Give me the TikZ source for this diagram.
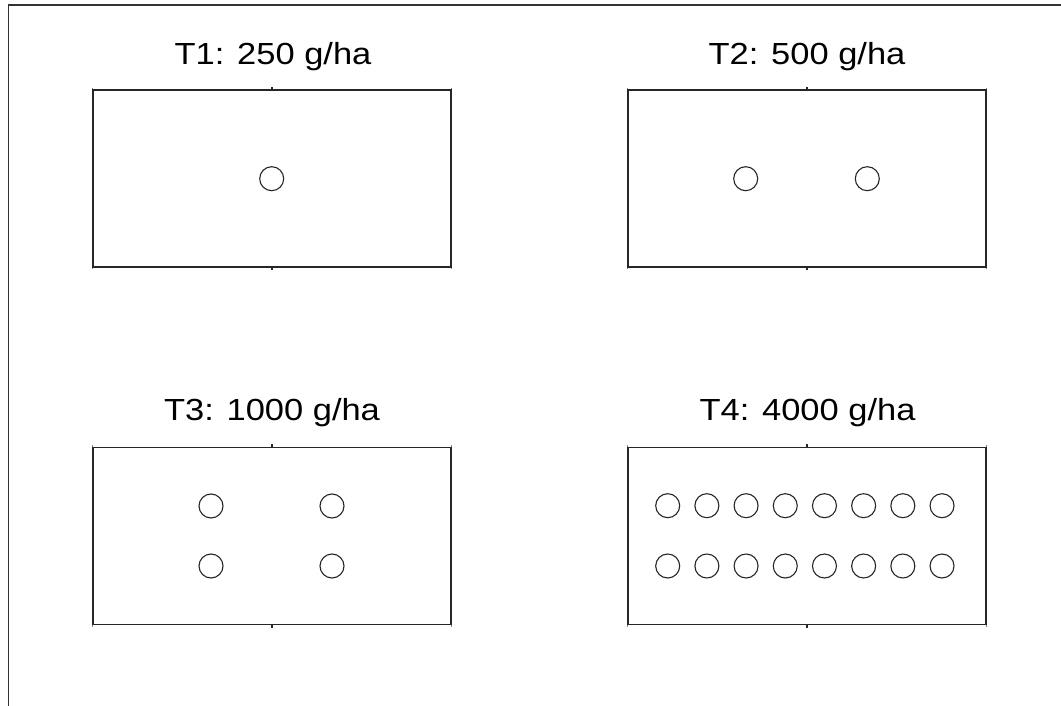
\documentclass[tikz,border=0pt]{standalone}
\usepackage{fontspec}
\usepackage{graphicx}
\newfontfamily\titlefont{Liberation Sans}
\begin{document}
\begin{tikzpicture}[x=1pt,y=-1pt,
  plot/.style={draw=black!85, line width=1.4pt, minimum width=358pt, minimum height=177pt, inner sep=0pt, rectangle},
  heading/.style={anchor=base, inner sep=0pt, font=\titlefont\fontsize{30.5}{36}\selectfont},
  dot/.style={draw=black!85, line width=1.1pt, circle, minimum size=24pt, inner sep=0pt},
  tick/.style={draw=black!85, line width=1.2pt},
  cornertick/.style={draw=black!50, line width=0.8pt}]
\useasboundingbox (0,0) rectangle (1061,706);
\fill[white] (0,0) rectangle (1061,706);
% outer frame (top and left edges)
\draw[black!80, line width=1.3pt] (8.3,706) -- (8.3,5) -- (1061,5);

% plots
\node[plot] (p1) at (272,178.5) {};
\node[plot] (p2) at (807,178.5) {};
\node[plot] (p3) at (272,536) {};
\node[plot] (p4) at (807,536) {};

% ticks on top and bottom edges
\foreach \p in {p1,p2,p3,p4}{
  \draw[tick] (\p.north) -- ++(0,-2.5);
  \draw[tick] (\p.south) -- ++(0,2.5);
  \draw[cornertick] (\p.north west) -- ++(0,-1.5);
  \draw[cornertick] (\p.north east) -- ++(0,-1.5);
  \draw[cornertick] (\p.south west) -- ++(0,1.5);
  \draw[cornertick] (\p.south east) -- ++(0,1.5);
}

% headings
\node[heading] (h1) at (273,65) {\scalebox{1.13}[1]{T1: 250 g/ha}};
\node[heading] (h2) at (807,64.5) {\scalebox{1.13}[1]{T2: 500 g/ha}};
\node[heading] (h3) at (272,420) {\scalebox{1.13}[1]{T3: 1000 g/ha}};
\node[heading] (h4) at (807.5,420) {\scalebox{1.13}[1]{T4: 4000 g/ha}};

% T1
\node[dot] (a1) at (271.7,178.7) {};
% T2
\node[dot] (b1) at (745.7,178.7) {};
\node[dot] (b2) at (867.3,178.7) {};
% T3
\node[dot] (c1) at (211,506) {};
\node[dot] (c2) at (332,506) {};
\node[dot] (c3) at (211,566) {};
\node[dot] (c4) at (332,566) {};
% T4
\foreach \i in {0,...,7}{
  \node[dot] (d\i) at (667.7+39.19*\i,505.7) {};
  \node[dot] (e\i) at (667.7+39.19*\i,566) {};
}
\end{tikzpicture}
\end{document}
